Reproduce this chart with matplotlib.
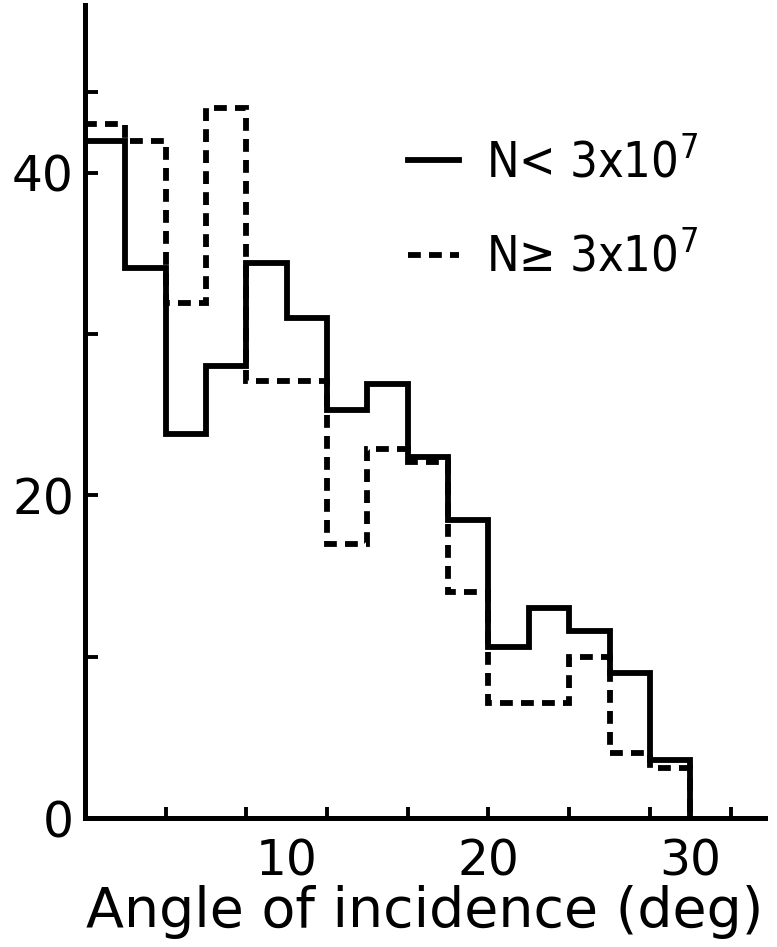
import matplotlib

matplotlib.use("Agg")
import matplotlib.pyplot as plt
import numpy

# histogram of incidence angle, 2 deg bins
bin_edges = numpy.arange(0, 32, 2)
counts_low = [42.0, 34.1, 23.8, 28.0, 34.4, 31.0, 25.3, 26.9, 22.4, 18.5, 10.6, 13.0, 11.6, 9.0, 3.6]
counts_high = [43.0, 42.0, 31.9, 44.0, 27.1, 27.1, 17.0, 22.9, 22.1, 14.0, 7.1, 7.1, 10.0, 4.0, 3.1]
label_low = "N< 3x10$^7$"
label_high = "N\u2265 3x10$^7$"

x_ticks = [4, 8, 12, 16, 20, 24, 28, 32]
x_labels = [10, 20, 30]
y_ticks = [0, 10, 20, 30, 40, 45]
y_labels = ["0", "", "20", "", "40", ""]

plt.rcParams["font.family"] = ["DejaVu Sans"]
plt.rcParams["mathtext.fontset"] = "dejavusans"
plt.rcParams["mathtext.default"] = "regular"

fig = plt.figure(figsize=(7.77, 9.47), dpi=100)
ax = fig.add_axes([0.1094, 0.1362, 0.875, 0.8585])

lw = 4.2
ax.stairs(counts_low, bin_edges, baseline=0, color="black", linewidth=lw,
          label=label_low)
ax.stairs(counts_high, bin_edges, baseline=0, color="black", linewidth=lw,
          linestyle=(0, (2.2, 1.4)), label=label_high)

ax.set_xlim(0, 33.7)
ax.set_ylim(0, 50.4)

for side in ["top", "right"]:
    ax.spines[side].set_visible(False)
for side in ["left", "bottom"]:
    ax.spines[side].set_linewidth(3.6)

ax.xaxis.remove_overlapping_locs = False
ax.set_xticks(x_ticks)
ax.set_xticklabels([""] * len(x_ticks))
ax.set_xticks(x_labels, minor=True)
ax.set_xticklabels([str(v) for v in x_labels], minor=True)
ax.tick_params(axis="x", which="major", direction="in", length=8, width=2.8)
ax.tick_params(axis="x", which="minor", length=0, pad=14, labelsize=35)

ax.set_yticks(y_ticks)
ax.set_yticklabels(y_labels)
ax.tick_params(axis="y", direction="in", length=9, width=2.8, pad=8, labelsize=35)

ax.set_xlabel("Angle of incidence (deg)", fontsize=40, labelpad=0)

ax.legend(loc="upper left", bbox_to_anchor=(0.475, 0.835), frameon=False,
          prop={"family": "DejaVu Sans", "stretch": "condensed", "size": 35},
          handlelength=1.05, handletextpad=0.55,
          labelspacing=0.95, borderpad=0, borderaxespad=0)

fig.savefig("out.png", dpi=100)
